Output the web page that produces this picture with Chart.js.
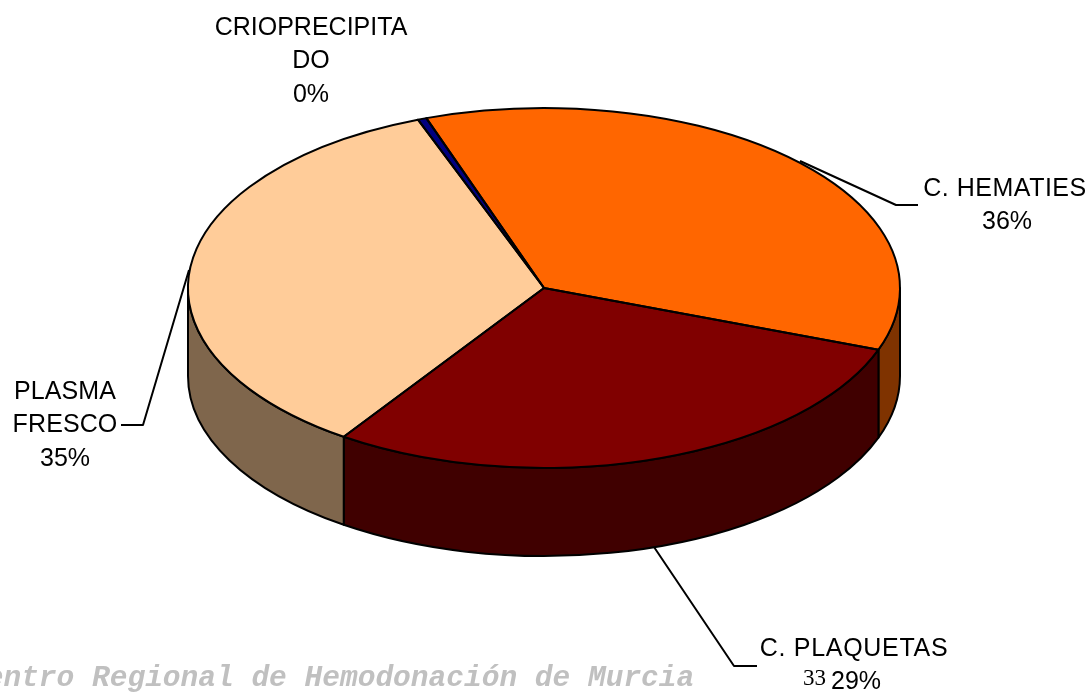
<!DOCTYPE html>
<html>
<head>
<meta charset="utf-8">
<style>
html, body { margin: 0; padding: 0; background: #fff; overflow: hidden; }
canvas { display: block; }
</style>
<script src="https://cdn.jsdelivr.net/npm/chart.js@4"></script>
</head>
<body>
<canvas id="pie" width="1088" height="692"></canvas>
<script>
const categories = ['C. HEMATIES', 'C. PLAQUETAS', 'PLASMA FRESCO', 'CRIOPRECIPITADO'];
const values = [36, 29, 34.8, 0.4];
const topColors = ['#FF6600', '#800000', '#FFCC99', '#000080'];
const wallColors = ['#7F3300', '#400000', '#7F664C', '#000040'];

// label placement, one entry per category
const labelLines = [
    ['C. HEMATIES'],
    ['C. PLAQUETAS'],
    ['PLASMA', 'FRESCO'],
    ['CRIOPRECIPITA', 'DO']
];
const labelCentres = [[1005, 189], [854, 649], [65, 392], [311, 28]];
const labelSpacing = ['0.5px', '0.7px', '0.1px', '0px'];
const percentCentres = [1007, 856, 65, 311];
const leaders = [
    [[800, 161], [896, 205], [918, 205]],
    [[654, 547], [734, 666], [757, 666]],
    [[189, 270], [143, 425], [121, 425]],
    null
];

const radiusX = 356;
const radiusY = 180;
const depth = 88;
const lineHeight = 33.5;

function drawWall(ctx, el, color) {
    const tau = Math.PI * 2;
    for (let k = -1; k < 3; k++) {
        const a = Math.max(el.startAngle, k * tau);
        const b = Math.min(el.endAngle, k * tau + Math.PI);
        if (a >= b) continue;
        ctx.beginPath();
        ctx.ellipse(el.x, el.y, radiusX, radiusY, 0, a, b);
        ctx.ellipse(el.x, el.y + depth, radiusX, radiusY, 0, b, a, true);
        ctx.closePath();
        ctx.fillStyle = color;
        ctx.fill();
        ctx.stroke();
    }
}

const pie3d = {
    id: 'pie3d',
    beforeDatasetsDraw(chart) {
        const ctx = chart.ctx;
        const arcs = chart.getDatasetMeta(0).data;
        ctx.save();
        ctx.strokeStyle = '#000';
        ctx.lineWidth = 2;
        ctx.lineJoin = 'round';
        arcs.forEach((el, i) => drawWall(ctx, el, wallColors[i]));
        ctx.restore();

        // squash the flat pie into the tilted top face
        const c = arcs[0];
        ctx.save();
        ctx.translate(c.x, c.y);
        ctx.scale(1, radiusY / radiusX);
        ctx.translate(-c.x, -c.y);
    },
    afterDatasetsDraw(chart) {
        const ctx = chart.ctx;
        ctx.restore();
        const arcs = chart.getDatasetMeta(0).data;
        ctx.save();
        ctx.strokeStyle = '#000';
        ctx.lineWidth = 2;
        ctx.lineJoin = 'round';
        arcs.forEach(el => {
            ctx.beginPath();
            ctx.moveTo(el.x, el.y);
            ctx.ellipse(el.x, el.y, radiusX, radiusY, 0, el.startAngle, el.endAngle);
            ctx.closePath();
            ctx.stroke();
        });

        leaders.forEach(pts => {
            if (!pts) return;
            ctx.beginPath();
            pts.forEach((p, i) => i ? ctx.lineTo(p[0], p[1]) : ctx.moveTo(p[0], p[1]));
            ctx.stroke();
        });

        const total = values.reduce((a, b) => a + b, 0);
        ctx.fillStyle = '#000';
        ctx.textAlign = 'center';
        ctx.textBaseline = 'middle';
        ctx.font = '25px "Liberation Sans"';
        labelLines.forEach((lines, i) => {
            const [x, y] = labelCentres[i];
            ctx.save();
            ctx.letterSpacing = labelSpacing[i];
            lines.forEach((t, j) => ctx.fillText(t, x, y + j * lineHeight));
            ctx.restore();
            ctx.fillText(Math.round(values[i] / total * 100) + '%', percentCentres[i], y + lines.length * lineHeight);
        });

        ctx.textAlign = 'left';
        ctx.textBaseline = 'alphabetic';
        ctx.fillStyle = '#C0C0C0';
        ctx.font = 'italic bold 29.5px "Liberation Mono"';
        ctx.letterSpacing = '0.01px';
        ctx.fillText('Centro Regional de Hemodonación de Murcia', -32, 686);
        ctx.fillStyle = '#000';
        ctx.font = '23px "Liberation Serif"';
        ctx.fillText('33', 803, 685);
        ctx.restore();
    }
};

new Chart(document.getElementById('pie'), {
    type: 'pie',
    data: {
        labels: categories,
        datasets: [{
            data: values,
            backgroundColor: topColors,
            borderWidth: 0,
            clip: false
        }]
    },
    options: {
        responsive: false,
        animation: false,
        events: [],
        rotation: -19.3,
        radius: radiusX,
        layout: { padding: { bottom: 116 } },
        plugins: { legend: { display: false }, tooltip: { enabled: false } }
    },
    plugins: [pie3d]
});
</script>
</body>
</html>
